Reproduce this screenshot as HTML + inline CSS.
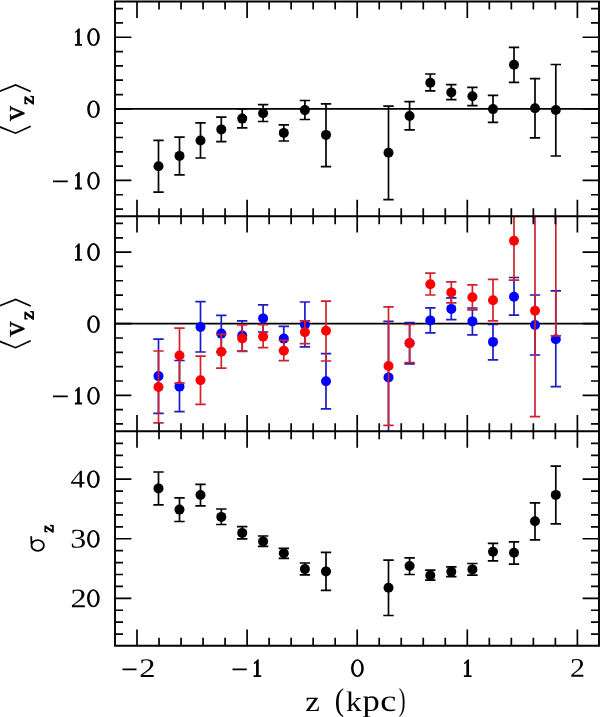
<!DOCTYPE html>
<html><head><meta charset="utf-8"><title>Plot</title>
<style>html,body{margin:0;padding:0;background:#fff;width:600px;height:717px;overflow:hidden}svg{display:block;will-change:transform;font-family:"Liberation Serif",serif}</style>
</head><body>
<svg width="600" height="717" viewBox="0 0 600 717">
<defs><clipPath id="c0"><rect x="115" y="1.5" width="484" height="214.7"/></clipPath><clipPath id="c1"><rect x="115" y="216.2" width="484" height="215.1"/></clipPath><clipPath id="c2"><rect x="115" y="431.3" width="484" height="214.5"/></clipPath></defs>
<rect width="600" height="717" fill="#fff"/>
<path d="M115 108.85H599M115 323.7H599" stroke="#000" stroke-width="1.7" fill="none"/>
<g clip-path="url(#c0)"><path d="M158.5 140.3V192.1M153.3 140.3h10.4M153.3 192.1h10.4M179.5 137.2V174.9M174.3 137.2h10.4M174.3 174.9h10.4M200.5 122.8V158M195.3 122.8h10.4M195.3 158h10.4M221.3 117.1V141.7M216.1 117.1h10.4M216.1 141.7h10.4M242.2 108.85V127.9M237 108.85h10.4M237 127.9h10.4M263.1 104.6V121.5M257.9 104.6h10.4M257.9 121.5h10.4M283.8 124.8V141M278.6 124.8h10.4M278.6 141h10.4M304.9 100.5V119.5M299.7 100.5h10.4M299.7 119.5h10.4M326 103.8V166.7M320.8 103.8h10.4M320.8 166.7h10.4M388.5 106.2V199.7M383.3 106.2h10.4M383.3 199.7h10.4M409.6 101.7V129.9M404.4 101.7h10.4M404.4 129.9h10.4M430.3 74V90.9M425.1 74h10.4M425.1 90.9h10.4M451.3 84.7V99.7M446.1 84.7h10.4M446.1 99.7h10.4M472.4 87.3V105.6M467.2 87.3h10.4M467.2 105.6h10.4M493 95.3V122.4M487.8 95.3h10.4M487.8 122.4h10.4M514 47.4V82.4M508.8 47.4h10.4M508.8 82.4h10.4M535 78.7V137.8M529.8 78.7h10.4M529.8 137.8h10.4M555.8 64.5V156M550.6 64.5h10.4M550.6 156h10.4" stroke="#000" stroke-width="1.7" fill="none"/><g fill="#000"><circle cx="158.5" cy="166.2" r="5.0"/><circle cx="179.5" cy="155.9" r="5.0"/><circle cx="200.5" cy="140.5" r="5.0"/><circle cx="221.3" cy="129.4" r="5.0"/><circle cx="242.2" cy="118.6" r="5.0"/><circle cx="263.1" cy="113.3" r="5.0"/><circle cx="283.8" cy="132.9" r="5.0"/><circle cx="304.9" cy="110.1" r="5.0"/><circle cx="326" cy="134.9" r="5.0"/><circle cx="388.5" cy="152.8" r="5.0"/><circle cx="409.6" cy="116" r="5.0"/><circle cx="430.3" cy="82.7" r="5.0"/><circle cx="451.3" cy="92.4" r="5.0"/><circle cx="472.4" cy="96.3" r="5.0"/><circle cx="493" cy="109.1" r="5.0"/><circle cx="514" cy="64.7" r="5.0"/><circle cx="535" cy="108.3" r="5.0"/><circle cx="555.8" cy="110" r="5.0"/></g></g>
<g clip-path="url(#c1)"><path d="M158.5 339.2V413.4M153.3 339.2h10.4M153.3 413.4h10.4M179.5 360.5V411.7M174.3 360.5h10.4M174.3 411.7h10.4M200.5 301.7V352M195.3 301.7h10.4M195.3 352h10.4M221.3 315.4V351.8M216.1 315.4h10.4M216.1 351.8h10.4M242.2 320.9V351M237 320.9h10.4M237 351h10.4M263.1 304.9V332M257.9 304.9h10.4M257.9 332h10.4M283.8 326.4V350.5M278.6 326.4h10.4M278.6 350.5h10.4M304.9 302V346.9M299.7 302h10.4M299.7 346.9h10.4M326 353.6V408.8M320.8 353.6h10.4M320.8 408.8h10.4M388.5 321.3V433.5M383.3 321.3h10.4M383.3 433.5h10.4M409.6 322.5V363.9M404.4 322.5h10.4M404.4 363.9h10.4M430.3 307.9V332.9M425.1 307.9h10.4M425.1 332.9h10.4M451.3 297.9V319.7M446.1 297.9h10.4M446.1 319.7h10.4M472.4 308V334.8M467.2 308h10.4M467.2 334.8h10.4M493 324.5V359.8M487.8 324.5h10.4M487.8 359.8h10.4M514 277.5V315.2M508.8 277.5h10.4M508.8 315.2h10.4M535 295V355M529.8 295h10.4M529.8 355h10.4M555.8 290.8V386.7M550.6 290.8h10.4M550.6 386.7h10.4" stroke="#1c1cc4" stroke-width="1.7" fill="none"/><g fill="#0000ff"><circle cx="158.5" cy="376.1" r="5.0"/><circle cx="179.5" cy="386.6" r="5.0"/><circle cx="200.5" cy="327" r="5.0"/><circle cx="221.3" cy="333.6" r="5.0"/><circle cx="242.2" cy="335.5" r="5.0"/><circle cx="263.1" cy="318.4" r="5.0"/><circle cx="283.8" cy="338.6" r="5.0"/><circle cx="304.9" cy="324.8" r="5.0"/><circle cx="326" cy="381.2" r="5.0"/><circle cx="388.5" cy="377.4" r="5.0"/><circle cx="409.6" cy="343.2" r="5.0"/><circle cx="430.3" cy="320.4" r="5.0"/><circle cx="451.3" cy="308.9" r="5.0"/><circle cx="472.4" cy="321.4" r="5.0"/><circle cx="493" cy="341.9" r="5.0"/><circle cx="514" cy="296.8" r="5.0"/><circle cx="535" cy="325" r="5.0"/><circle cx="555.8" cy="339.2" r="5.0"/></g></g>
<g clip-path="url(#c1)"><path d="M158.5 351V422.9M153.3 351h10.4M153.3 422.9h10.4M179.5 328.2V383.1M174.3 328.2h10.4M174.3 383.1h10.4M200.5 356.1V404.4M195.3 356.1h10.4M195.3 404.4h10.4M221.3 334.3V368.2M216.1 334.3h10.4M216.1 368.2h10.4M242.2 324.8V351.3M237 324.8h10.4M237 351.3h10.4M263.1 324.7V347.6M257.9 324.7h10.4M257.9 347.6h10.4M283.8 340.3V360.7M278.6 340.3h10.4M278.6 360.7h10.4M304.9 320.9V343.6M299.7 320.9h10.4M299.7 343.6h10.4M326 301.1V361M320.8 301.1h10.4M320.8 361h10.4M388.5 306.8V425.4M383.3 306.8h10.4M383.3 425.4h10.4M409.6 324.5V362.5M404.4 324.5h10.4M404.4 362.5h10.4M430.3 273.2V295M425.1 273.2h10.4M425.1 295h10.4M451.3 281.9V302.9M446.1 281.9h10.4M446.1 302.9h10.4M472.4 284.9V309.9M467.2 284.9h10.4M467.2 309.9h10.4M493 279.4V320.8M487.8 279.4h10.4M487.8 320.8h10.4M514 201.2V280.2M508.8 201.2h10.4M508.8 280.2h10.4M535 204.7V416.7M529.8 204.7h10.4M529.8 416.7h10.4M555.8 150V335.8M550.6 150h10.4M550.6 335.8h10.4" stroke="#d0222c" stroke-width="1.7" fill="none"/><g fill="#ff0000"><circle cx="158.5" cy="387" r="5.0"/><circle cx="179.5" cy="355.5" r="5.0"/><circle cx="200.5" cy="380.3" r="5.0"/><circle cx="221.3" cy="351.7" r="5.0"/><circle cx="242.2" cy="338.5" r="5.0"/><circle cx="263.1" cy="336.6" r="5.0"/><circle cx="283.8" cy="350.7" r="5.0"/><circle cx="304.9" cy="332.2" r="5.0"/><circle cx="326" cy="330.8" r="5.0"/><circle cx="388.5" cy="366" r="5.0"/><circle cx="409.6" cy="343.1" r="5.0"/><circle cx="430.3" cy="284.3" r="5.0"/><circle cx="451.3" cy="292.4" r="5.0"/><circle cx="472.4" cy="297.3" r="5.0"/><circle cx="493" cy="300.2" r="5.0"/><circle cx="514" cy="240.7" r="5.0"/><circle cx="535" cy="310.7" r="5.0"/><circle cx="555.8" cy="200" r="5.0"/></g></g>
<g clip-path="url(#c2)"><path d="M158.5 472V504.9M153.3 472h10.4M153.3 504.9h10.4M179.5 497.9V521.5M174.3 497.9h10.4M174.3 521.5h10.4M200.5 484.3V505.9M195.3 484.3h10.4M195.3 505.9h10.4M221.3 509V524.5M216.1 509h10.4M216.1 524.5h10.4M242.2 526.7V538.9M237 526.7h10.4M237 538.9h10.4M263.1 536V546.4M257.9 536h10.4M257.9 546.4h10.4M283.8 548.4V558.4M278.6 548.4h10.4M278.6 558.4h10.4M304.9 563V574.9M299.7 563h10.4M299.7 574.9h10.4M326 552.4V590.3M320.8 552.4h10.4M320.8 590.3h10.4M388.5 560.1V615.5M383.3 560.1h10.4M383.3 615.5h10.4M409.6 557.8V574.5M404.4 557.8h10.4M404.4 574.5h10.4M430.3 570.1V580.1M425.1 570.1h10.4M425.1 580.1h10.4M451.3 566.9V576.6M446.1 566.9h10.4M446.1 576.6h10.4M472.4 563.5V575.2M467.2 563.5h10.4M467.2 575.2h10.4M493 543.3V560.8M487.8 543.3h10.4M487.8 560.8h10.4M514 541.9V564.2M508.8 541.9h10.4M508.8 564.2h10.4M535 502.9V539.9M529.8 502.9h10.4M529.8 539.9h10.4M555.8 466.1V523.8M550.6 466.1h10.4M550.6 523.8h10.4" stroke="#000" stroke-width="1.7" fill="none"/><g fill="#000"><circle cx="158.5" cy="488.4" r="5.0"/><circle cx="179.5" cy="509.6" r="5.0"/><circle cx="200.5" cy="495" r="5.0"/><circle cx="221.3" cy="516.9" r="5.0"/><circle cx="242.2" cy="532.9" r="5.0"/><circle cx="263.1" cy="541.4" r="5.0"/><circle cx="283.8" cy="553.3" r="5.0"/><circle cx="304.9" cy="569.1" r="5.0"/><circle cx="326" cy="571.4" r="5.0"/><circle cx="388.5" cy="587.7" r="5.0"/><circle cx="409.6" cy="566" r="5.0"/><circle cx="430.3" cy="575.4" r="5.0"/><circle cx="451.3" cy="571.7" r="5.0"/><circle cx="472.4" cy="569.4" r="5.0"/><circle cx="493" cy="551.7" r="5.0"/><circle cx="514" cy="552.8" r="5.0"/><circle cx="535" cy="521.3" r="5.0"/><circle cx="555.8" cy="494.9" r="5.0"/></g></g>
<path d="M137 1.5v16.4M159.02 1.5v8M181.04 1.5v8M203.06 1.5v8M225.08 1.5v8M247.1 1.5v16.4M269.12 1.5v8M291.14 1.5v8M313.16 1.5v8M335.18 1.5v8M357.2 1.5v16.4M379.22 1.5v8M401.24 1.5v8M423.26 1.5v8M445.28 1.5v8M467.3 1.5v16.4M489.32 1.5v8M511.34 1.5v8M533.36 1.5v8M555.38 1.5v8M577.4 1.5v16.4M137 216.2v-16.4M137 216.2v16.4M159.02 216.2v-8M159.02 216.2v8M181.04 216.2v-8M181.04 216.2v8M203.06 216.2v-8M203.06 216.2v8M225.08 216.2v-8M225.08 216.2v8M247.1 216.2v-16.4M247.1 216.2v16.4M269.12 216.2v-8M269.12 216.2v8M291.14 216.2v-8M291.14 216.2v8M313.16 216.2v-8M313.16 216.2v8M335.18 216.2v-8M335.18 216.2v8M357.2 216.2v-16.4M357.2 216.2v16.4M379.22 216.2v-8M379.22 216.2v8M401.24 216.2v-8M401.24 216.2v8M423.26 216.2v-8M423.26 216.2v8M445.28 216.2v-8M445.28 216.2v8M467.3 216.2v-16.4M467.3 216.2v16.4M489.32 216.2v-8M489.32 216.2v8M511.34 216.2v-8M511.34 216.2v8M533.36 216.2v-8M533.36 216.2v8M555.38 216.2v-8M555.38 216.2v8M577.4 216.2v-16.4M577.4 216.2v16.4M137 431.3v-16.4M137 431.3v16.4M159.02 431.3v-8M159.02 431.3v8M181.04 431.3v-8M181.04 431.3v8M203.06 431.3v-8M203.06 431.3v8M225.08 431.3v-8M225.08 431.3v8M247.1 431.3v-16.4M247.1 431.3v16.4M269.12 431.3v-8M269.12 431.3v8M291.14 431.3v-8M291.14 431.3v8M313.16 431.3v-8M313.16 431.3v8M335.18 431.3v-8M335.18 431.3v8M357.2 431.3v-16.4M357.2 431.3v16.4M379.22 431.3v-8M379.22 431.3v8M401.24 431.3v-8M401.24 431.3v8M423.26 431.3v-8M423.26 431.3v8M445.28 431.3v-8M445.28 431.3v8M467.3 431.3v-16.4M467.3 431.3v16.4M489.32 431.3v-8M489.32 431.3v8M511.34 431.3v-8M511.34 431.3v8M533.36 431.3v-8M533.36 431.3v8M555.38 431.3v-8M555.38 431.3v8M577.4 431.3v-16.4M577.4 431.3v16.4M137 645.8v-16.4M159.02 645.8v-8M181.04 645.8v-8M203.06 645.8v-8M225.08 645.8v-8M247.1 645.8v-16.4M269.12 645.8v-8M291.14 645.8v-8M313.16 645.8v-8M335.18 645.8v-8M357.2 645.8v-16.4M379.22 645.8v-8M401.24 645.8v-8M423.26 645.8v-8M445.28 645.8v-8M467.3 645.8v-16.4M489.32 645.8v-8M511.34 645.8v-8M533.36 645.8v-8M555.38 645.8v-8M577.4 645.8v-16.4M115 209.09h8M599 209.09h-8M115 194.77h8M599 194.77h-8M115 180.45h16.4M599 180.45h-16.4M115 166.13h8M599 166.13h-8M115 151.81h8M599 151.81h-8M115 137.49h8M599 137.49h-8M115 123.17h8M599 123.17h-8M115 108.85h16.4M599 108.85h-16.4M115 94.53h8M599 94.53h-8M115 80.21h8M599 80.21h-8M115 65.89h8M599 65.89h-8M115 51.57h8M599 51.57h-8M115 37.25h16.4M599 37.25h-16.4M115 22.93h8M599 22.93h-8M115 8.61h8M599 8.61h-8M115 423.94h8M599 423.94h-8M115 409.62h8M599 409.62h-8M115 395.3h16.4M599 395.3h-16.4M115 380.98h8M599 380.98h-8M115 366.66h8M599 366.66h-8M115 352.34h8M599 352.34h-8M115 338.02h8M599 338.02h-8M115 323.7h16.4M599 323.7h-16.4M115 309.38h8M599 309.38h-8M115 295.06h8M599 295.06h-8M115 280.74h8M599 280.74h-8M115 266.42h8M599 266.42h-8M115 252.1h16.4M599 252.1h-16.4M115 237.78h8M599 237.78h-8M115 223.46h8M599 223.46h-8M115 634.11h8M599 634.11h-8M115 622.19h8M599 622.19h-8M115 610.27h8M599 610.27h-8M115 598.35h16.4M599 598.35h-16.4M115 586.43h8M599 586.43h-8M115 574.51h8M599 574.51h-8M115 562.59h8M599 562.59h-8M115 550.67h8M599 550.67h-8M115 538.75h16.4M599 538.75h-16.4M115 526.83h8M599 526.83h-8M115 514.91h8M599 514.91h-8M115 502.99h8M599 502.99h-8M115 491.07h8M599 491.07h-8M115 479.15h16.4M599 479.15h-16.4M115 467.23h8M599 467.23h-8M115 455.31h8M599 455.31h-8M115 443.39h8M599 443.39h-8" stroke="#000" stroke-width="1.7" fill="none"/>
<path d="M115 1.5H599V645.8H115ZM115 216.2H599M115 431.3H599" stroke="#000" stroke-width="1.9" fill="none" stroke-linecap="square"/>
<path d="M-0.5 91.4L15.7 85L30.7 91.5M-0.5 126.8L15.6 133.2L30.7 126.3M-0.5 305.9L15.7 299.5L30.7 306M-0.5 341.3L15.6 347.7L30.7 340.8M53 181.3H67.8M53 396.3H67.8M122.5 669.3H136.5M232.5 669.3H246.8" stroke="#000" stroke-width="1.7" fill="none"/>
<path d="M31.2 536.3L31.5 544M31.5 545.45a6.2 5.4 0 1 0 12.4 0a6.2 5.4 0 1 0 -12.4 0Z" stroke="#000" stroke-width="1.8" fill="none"/>
<path d="M79.8 28.5L78.75 28.2L75 31.9L75.25 33.1L77.1 31.8L77.1 44L74.9 44V45.8H82V44H79.8ZM87.2 37.1a6.3 9 0 1 0 12.6 0a6.3 9 0 1 0 -12.6 0ZM89.7 37.1a3.8 7.45 0 1 0 7.6 0a3.8 7.45 0 1 0 -7.6 0ZM87.2 109.15a6.3 8.95 0 1 0 12.6 0a6.3 8.95 0 1 0 -12.6 0ZM89.7 109.15a3.8 7.4 0 1 0 7.6 0a3.8 7.4 0 1 0 -7.6 0ZM79.8 172.2L78.75 171.9L75 175.6L75.25 176.8L77.1 175.5L77.1 187.6L74.9 187.6V189.4H82V187.6H79.8ZM87.2 180.75a6.3 8.95 0 1 0 12.6 0a6.3 8.95 0 1 0 -12.6 0ZM89.7 180.75a3.8 7.4 0 1 0 7.6 0a3.8 7.4 0 1 0 -7.6 0ZM79.8 243.5L78.75 243.2L75 246.9L75.25 248.1L77.1 246.8L77.1 259L74.9 259V260.8H82V259H79.8ZM87.2 252.1a6.3 9 0 1 0 12.6 0a6.3 9 0 1 0 -12.6 0ZM89.7 252.1a3.8 7.45 0 1 0 7.6 0a3.8 7.45 0 1 0 -7.6 0ZM87.2 324.15a6.3 8.95 0 1 0 12.6 0a6.3 8.95 0 1 0 -12.6 0ZM89.7 324.15a3.8 7.4 0 1 0 7.6 0a3.8 7.4 0 1 0 -7.6 0ZM79.8 387.2L78.75 386.9L75 390.6L75.25 391.8L77.1 390.5L77.1 402.6L74.9 402.6V404.4H82V402.6H79.8ZM87.2 395.75a6.3 8.95 0 1 0 12.6 0a6.3 8.95 0 1 0 -12.6 0ZM89.7 395.75a3.8 7.4 0 1 0 7.6 0a3.8 7.4 0 1 0 -7.6 0ZM87 479.1a6.35 8.9 0 1 0 12.7 0a6.35 8.9 0 1 0 -12.7 0ZM89.5 479.1a3.85 7.35 0 1 0 7.7 0a3.85 7.35 0 1 0 -7.7 0ZM87 538.85a6.35 8.95 0 1 0 12.7 0a6.35 8.95 0 1 0 -12.7 0ZM89.5 538.85a3.85 7.4 0 1 0 7.7 0a3.85 7.4 0 1 0 -7.7 0ZM87 598.3a6.35 9 0 1 0 12.7 0a6.35 9 0 1 0 -12.7 0ZM89.5 598.3a3.85 7.45 0 1 0 7.7 0a3.85 7.45 0 1 0 -7.7 0ZM258.75 659.6L257.7 659.3L253.7 663L253.95 664.2L256.05 662.9L256.05 675.2L253.6 675.2V677H261.2V675.2H258.75ZM351 668.15a6.4 8.85 0 1 0 12.8 0a6.4 8.85 0 1 0 -12.8 0ZM353.5 668.15a3.9 7.3 0 1 0 7.8 0a3.9 7.3 0 1 0 -7.8 0ZM469.05 659.6L468 659.3L464 663L464.25 664.2L466.35 662.9L466.35 675.2L463.9 675.2V677H471.5V675.2H469.05Z" fill="#000" fill-rule="evenodd"/>
<g font-family="Liberation Serif" font-size="100" fill="#000"><text transform="matrix(0.2891 0.0008 0 0.2569 70.541 487.466)">4</text><text transform="matrix(0.3195 0.0008 0 0.2697 70.304 547.498)">3</text><text transform="matrix(0.3225 0.0008 0 0.2677 70.412 607.222)">2</text><text transform="matrix(0.3250 0.0008 0 0.2692 139.235 676.900)">2</text><text transform="matrix(0.3000 0.0008 0 0.2692 569.948 676.635)">2</text><text transform="matrix(0.3289 0.0008 0 0.2870 305.300 710.968)">z</text><text transform="matrix(0.2846 0.0008 0 0.3217 334.662 710.613)">(</text><text transform="matrix(0.3125 0.0008 0 0.2826 345.908 710.981)">k</text><text transform="matrix(0.3455 0.0008 0 0.3085 362.462 710.822)">p</text><text transform="matrix(0.3622 0.0008 0 0.3104 380.354 710.960)">c</text><text transform="matrix(0.2038 0.0008 0 0.3203 398.720 710.362)">)</text><text transform="matrix(0.0008 -0.3010 0.3032 0.0008 23.903 121.075)" stroke="#000" stroke-width="1.49" stroke-linejoin="round">v</text><text transform="matrix(0.0008 -0.2079 0.1891 0.0008 33.520 104.835)" stroke="#000" stroke-width="4.53" stroke-linejoin="round">z</text><text transform="matrix(0.0008 -0.3010 0.3032 0.0008 23.900 336.475)" stroke="#000" stroke-width="1.49" stroke-linejoin="round">v</text><text transform="matrix(0.0008 -0.2079 0.1891 0.0008 33.515 320.067)" stroke="#000" stroke-width="4.53" stroke-linejoin="round">z</text><text transform="matrix(0.0008 -0.1789 0.1826 0.0008 53.350 532.839)" stroke="#000" stroke-width="4.98" stroke-linejoin="round">z</text></g>
</svg>
</body></html>
